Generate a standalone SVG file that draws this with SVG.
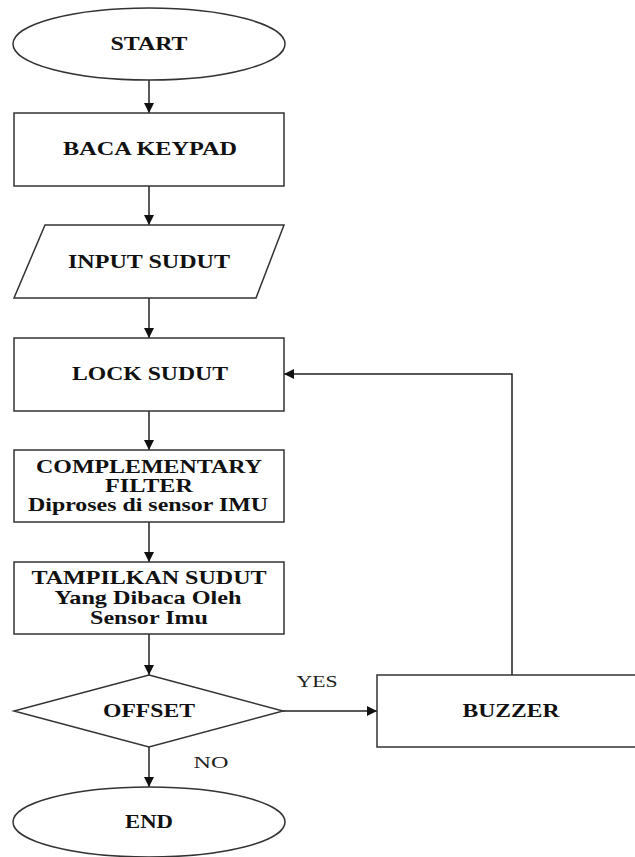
<svg xmlns="http://www.w3.org/2000/svg" width="635" height="857" viewBox="0 0 635 857">
<style>
.shape{fill:#fff;stroke:#333;stroke-width:1.5}
.conn{fill:none;stroke:#222;stroke-width:1.5}
.t{font-family:"Liberation Serif","Times New Roman",serif;font-weight:bold;font-size:19px;fill:#111;text-anchor:middle}
.l{font-family:"Liberation Serif","Times New Roman",serif;font-size:17px;fill:#222;text-anchor:middle}
</style>
<defs>
<marker id="ah" markerWidth="10" markerHeight="10" refX="10" refY="5" orient="auto" markerUnits="userSpaceOnUse">
<path d="M0,0 L10,5 L0,10 Z" fill="#111"/>
</marker>
</defs>
<rect width="635" height="857" fill="#fff"/>
<g id="connectors">
<line class="conn" x1="149" y1="80" x2="149" y2="113" marker-end="url(#ah)"/>
<line class="conn" x1="149" y1="186" x2="149" y2="225" marker-end="url(#ah)"/>
<line class="conn" x1="149" y1="298" x2="149" y2="338" marker-end="url(#ah)"/>
<line class="conn" x1="149" y1="411" x2="149" y2="450" marker-end="url(#ah)"/>
<line class="conn" x1="149" y1="522" x2="149" y2="562" marker-end="url(#ah)"/>
<line class="conn" x1="149" y1="634" x2="149" y2="675" marker-end="url(#ah)"/>
<line class="conn" x1="149" y1="747" x2="149" y2="787" marker-end="url(#ah)"/>
<line class="conn" x1="283" y1="711" x2="377" y2="711" marker-end="url(#ah)"/>
<polyline class="conn" points="512,675 512,374 284,374" marker-end="url(#ah)"/>
<text class="l" x="317" y="687" textLength="41" lengthAdjust="spacingAndGlyphs">YES</text>
<text class="l" x="211" y="768" textLength="35" lengthAdjust="spacingAndGlyphs">NO</text>
</g>
<g id="start">
<ellipse class="shape" cx="149" cy="44" rx="136" ry="36"/>
<text class="t" x="149" y="50" textLength="77" lengthAdjust="spacingAndGlyphs">START</text>
</g>
<g id="baca-keypad">
<rect class="shape" x="14" y="113" width="270" height="73"/>
<text class="t" x="150" y="155" textLength="174" lengthAdjust="spacingAndGlyphs">BACA KEYPAD</text>
</g>
<g id="input-sudut">
<polygon class="shape" points="45,225 284,225 256,298 14,298"/>
<text class="t" x="149" y="268" textLength="162" lengthAdjust="spacingAndGlyphs">INPUT SUDUT</text>
</g>
<g id="lock-sudut">
<rect class="shape" x="14" y="338" width="270" height="73"/>
<text class="t" x="150" y="380" textLength="156" lengthAdjust="spacingAndGlyphs">LOCK SUDUT</text>
</g>
<g id="complementary-filter">
<rect class="shape" x="14" y="450" width="270" height="72"/>
<text class="t" x="149" y="473" textLength="226" lengthAdjust="spacingAndGlyphs">COMPLEMENTARY</text>
<text class="t" x="149" y="492" textLength="88" lengthAdjust="spacingAndGlyphs">FILTER</text>
<text class="t" x="148" y="511" textLength="240" lengthAdjust="spacingAndGlyphs">Diproses di sensor IMU</text>
</g>
<g id="tampilkan-sudut">
<rect class="shape" x="14" y="562" width="270" height="72"/>
<text class="t" x="149" y="584" textLength="235" lengthAdjust="spacingAndGlyphs">TAMPILKAN SUDUT</text>
<text class="t" x="148" y="604" textLength="187" lengthAdjust="spacingAndGlyphs">Yang Dibaca Oleh</text>
<text class="t" x="149" y="624" textLength="118" lengthAdjust="spacingAndGlyphs">Sensor Imu</text>
</g>
<g id="offset">
<polygon class="shape" points="149,675 283,711 149,747 14,711"/>
<text class="t" x="149" y="717" textLength="92" lengthAdjust="spacingAndGlyphs">OFFSET</text>
</g>
<g id="buzzer">
<rect class="shape" x="377" y="675" width="300" height="72"/>
<text class="t" x="511" y="717" textLength="97" lengthAdjust="spacingAndGlyphs">BUZZER</text>
</g>
<g id="end">
<ellipse class="shape" cx="149" cy="822" rx="136" ry="35"/>
<text class="t" x="149" y="828" textLength="48" lengthAdjust="spacingAndGlyphs">END</text>
</g>
</svg>
